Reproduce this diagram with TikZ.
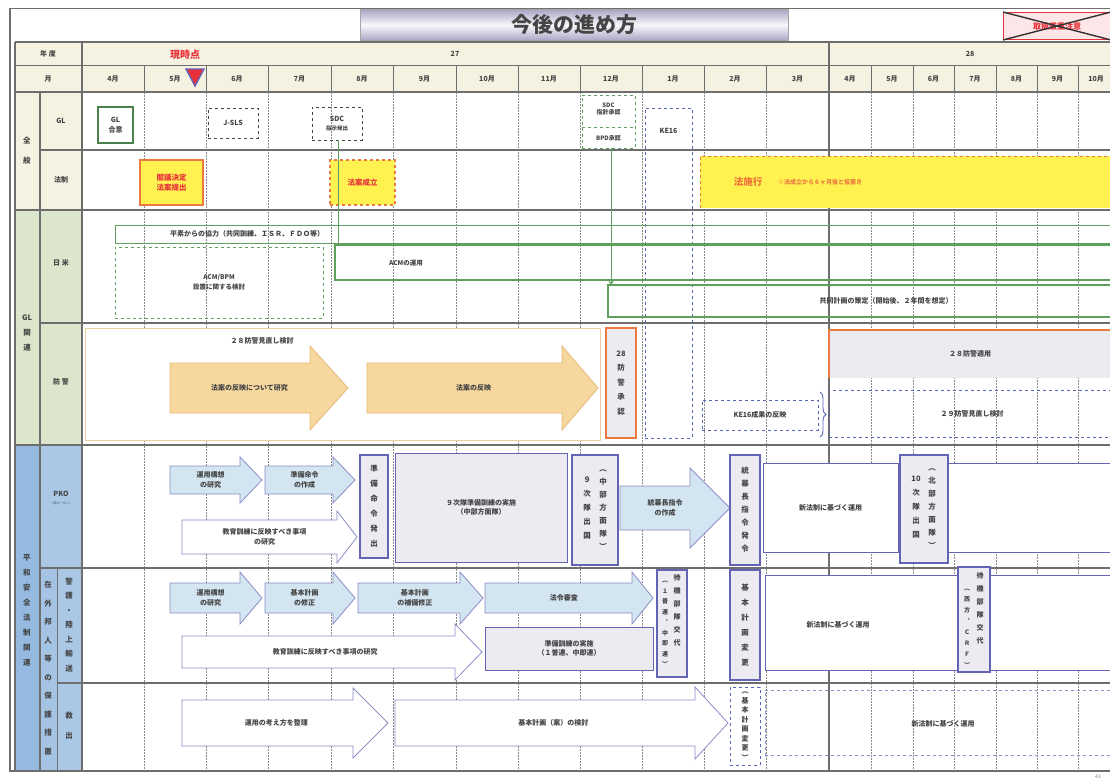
\documentclass[tikz,border=0pt]{standalone}
\usepackage{fontspec}
\setmainfont{Noto Sans CJK JP}
\usetikzlibrary{decorations.pathreplacing,arrows.meta}
\definecolor{cream}{HTML}{F6F2E1}
\definecolor{glgreen}{HTML}{DCE6CC}
\definecolor{blueA}{HTML}{95B9DF}
\definecolor{blueB}{HTML}{AAC7E6}
\definecolor{gridc}{HTML}{8A8A8A}
\definecolor{rowc}{HTML}{6E6E6E}
\definecolor{vfill}{HTML}{EDEBF2}
\definecolor{vbord}{HTML}{6464B4}
\definecolor{afill}{HTML}{D3E5F0}
\definecolor{abord}{HTML}{8C8CC8}
\definecolor{ofill}{HTML}{F6D89E}
\definecolor{obord}{HTML}{E6B878}
\definecolor{oline}{HTML}{EC7A40}
\definecolor{yel}{HTML}{FFF250}
\definecolor{ggreen}{HTML}{5FA05F}
\definecolor{dblue}{HTML}{5566B4}
\definecolor{redt}{HTML}{E8303A}
\definecolor{txt}{HTML}{454545}
\definecolor{lav}{HTML}{ABA5C6}
\newcommand\mkbox[7]{\node[#6, minimum width={#4-#2}, minimum height={#5-#3}] (#1) at ({(#2+#4)/2},{(#3+#5)/2}) {#7};}
\newcommand\mkarrow[9]{\draw[#2] (#3,{#6-#7}) -- (#4,{#6-#7}) -- (#4,{#6-#8}) -- (#5,#6) -- (#4,{#6+#8}) -- (#4,{#6+#7}) -- (#3,{#6+#7}) -- cycle;
 \node[lbl] (#1) at ({(#3+#4)/2+(#5-#4)*0.25},#6) {#9};}
\begin{document}
\begin{tikzpicture}[x=1pt,y=-1pt,
  lbl/.style={font=\bfseries\fontsize{7}{9.5}\selectfont, align=center, inner sep=0pt, text=txt},
  hd/.style={font=\bfseries\fontsize{7}{9}\selectfont, inner sep=0pt, text=txt},
  vt/.style={font=\bfseries\fontsize{7.5}{12.5}\selectfont, align=center, inner sep=0pt, text=txt},
  bxs/.style={inner sep=0pt, outer sep=0pt, align=center, font=\bfseries\fontsize{7}{9.5}\selectfont, text=txt},
  vb/.style={bxs, draw=vbord, line width=1.3pt, fill=vfill},
  gb/.style={bxs, draw=vbord, line width=1pt, fill=vfill},
  wb/.style={bxs, draw=vbord, line width=1pt, fill=white},
  db/.style={bxs, draw=dblue, dashed, line width=0.9pt},
  barr/.style={draw=abord, fill=afill, line width=0.8pt},
  warr/.style={draw=abord, fill=white, line width=0.8pt},
  oarr/.style={draw=obord, fill=ofill, line width=0.8pt},
  gridv/.style={draw=gridc, line width=0.5pt, dash pattern=on 2pt off 1pt},
  rowl/.style={draw=rowc, line width=1.6pt},
  gline/.style={draw=ggreen, line width=1pt}]
\useasboundingbox (0,0) rectangle (1110,780);
\fill[white] (0,0) rectangle (1110,780);
% ---------- top band ----------
\draw[rowc, line width=1pt] (10,8) -- (1110,8);
\node[inner sep=0pt, outer sep=0pt, minimum width=428, minimum height=31, top color=lav, bottom color=lav, middle color=white!92!lav, draw=gray!70] (title) at (574,25) {\bfseries\fontsize{21}{24}\selectfont\color{txt}今後の進め方};
\node[draw=redt, fill=redt!12, line width=1pt, minimum width=107, minimum height=27, inner sep=0pt, text=redt, font=\bfseries\fontsize{8}{9}\selectfont] (secret) at (1057,26) {取扱厳重注意};
\draw[black!80, line width=1.4pt] (secret.north west) -- (secret.south east);
\draw[black!80, line width=1.4pt] (secret.south west) -- (secret.north east);
% ---------- backgrounds ----------
\fill[cream] (15,42) rectangle (1110,92);
\fill[cream] (15,92) rectangle (82,210);
\fill[glgreen] (15,210) rectangle (82,445);
\fill[blueA] (15,445) rectangle (40,770);
\fill[blueB] (40,445) rectangle (82,770);
\fill[blueA!85!white] (40,568) rectangle (57,770);
% ---------- grid ----------
\foreach \gx in {144,206,268,331,393,456,518,580,642,704,766,871,913,954,996,1037,1078}{
  \draw[gridv] (\gx,92) -- (\gx,770);
  \draw[rowc, line width=1pt] (\gx,65) -- (\gx,92);
}
\draw[rowc, line width=1.2pt] (829,42) -- (829,770);
\draw[rowc, line width=1.4pt] (82,42) -- (82,770);
\draw[rowc, line width=1.2pt] (40,92) -- (40,770);
\draw[rowc, line width=1pt] (57,568) -- (57,770);
\draw[rowc, line width=1.2pt] (10,8) -- (10,772);
\draw[rowc, line width=1.2pt] (15,42) -- (15,770);
\draw[rowl] (15,42) -- (1110,42);
\draw[rowc, line width=1pt] (15,65) -- (1110,65);
\draw[rowl] (15,92) -- (1110,92);
\draw[rowl] (40,150) -- (1110,150);
\draw[rowl] (15,210) -- (1110,210);
\draw[rowl] (40,323) -- (1110,323);
\draw[rowl] (15,445) -- (1110,445);
\draw[rowl] (40,568) -- (1110,568);
\draw[rowl] (57,683) -- (1110,683);
\draw[rowl] (10,771) -- (1110,771);
% ---------- header text ----------
\node[hd] (nendo) at (48,54) {年\ 度};
\node[hd] (tsuki) at (48,79) {月};
\node[hd] (y27) at (455,54) {27};
\node[hd] (y28) at (970,54) {28};
\node[font=\bfseries\fontsize{10}{11}\selectfont, text=redt, inner sep=0pt] (genji) at (185,55) {現時点};
\foreach \mx/\mt in {113/4月,175/5月,237/6月,299.5/7月,362/8月,424.5/9月,487/10月,549/11月,611/12月,673/1月,735/2月,797.5/3月,850/4月,892/5月,933.5/6月,975/7月,1016.5/8月,1057.5/9月,1096/10月}{
  \node[hd] at (\mx,79) {\mt};
}
\draw[fill=redt, draw=vbord, line width=1.4pt] (186,69) -- (204,69) -- (195,86) -- cycle;
% ---------- left labels ----------
\node[vt, font=\bfseries\fontsize{7.5}{20}\selectfont] (zenpan) at (27,151) {全\\般};
\node[lbl] (lgl) at (61,121) {GL};
\node[lbl] (lhosei) at (61,180) {法制};
\node[vt, font=\bfseries\fontsize{7.5}{15}\selectfont] (glkan) at (27,333) {GL\\関\\連};
\node[lbl] (lnichibei) at (61,263) {日\ 米};
\node[lbl] (lbokei) at (61,382) {防\ 警};
\node[vt, font=\bfseries\fontsize{7.5}{15}\selectfont] (heiwa) at (27,610) {平\\和\\安\\全\\法\\制\\関\\連};
\node[lbl] (lpko) at (61,494) {PKO};
\node[inner sep=0pt, font=\fontsize{3}{4}\selectfont, text=txt] (lpkos) at (61,503) {（南スーダン）};
\node[vt, font=\bfseries\fontsize{7.5}{18.5}\selectfont] (zaigai) at (48,668) {在\\外\\邦\\人\\等\\の\\保\\護\\措\\置};
\node[vt, font=\bfseries\fontsize{7.5}{14.5}\selectfont] (keigo) at (69,625) {警\\護\\・\\陸\\上\\輸\\送};
\node[vt, font=\bfseries\fontsize{7.5}{20}\selectfont] (kyushutsu) at (69,726) {救\\出};
% ---------- 全般 GL ----------
\mkbox{glgoi}{98}{107}{133}{143}{bxs, draw=ggreen!80!black, line width=1.2pt, fill=white}{GL\\合意}
\mkbox{jsls}{208}{108}{258}{138}{bxs, draw=txt, dashed, line width=0.9pt}{J-SLS}
\mkbox{sdca}{312}{107}{362}{140}{bxs, draw=txt, dashed, line width=0.9pt}{SDC\\{\fontsize{5.5}{7}\selectfont 指示発出}}
\mkbox{sdcb}{582}{95}{635}{148}{bxs, draw=ggreen, dashed, line width=0.9pt}{}
\node[lbl, font=\bfseries\fontsize{6}{7}\selectfont] (sdcbt) at (608.5,109) {SDC\\指針承認};
\draw[ggreen, dashed, line width=0.8pt] (582,127) -- (635,127);
\node[lbl, font=\bfseries\fontsize{6}{7}\selectfont] (sdcbb) at (608.5,138) {BPD承認};
\mkbox{ke}{645}{108}{692}{438}{db}{}
\node[lbl] (ket) at (668.5,131) {KE16};
% ---------- 法制 ----------
\mkbox{kakugi}{140}{160}{203}{205}{bxs, draw=oline, line width=1.2pt, fill=yel, text=redt, font=\bfseries\fontsize{7.5}{10}\selectfont}{閣議決定\\法案提出}
\mkbox{seiritsu}{330}{160}{395}{205}{bxs, draw=oline, dashed, line width=1.1pt, fill=yel, text=redt, font=\bfseries\fontsize{7.5}{10}\selectfont}{法案成立}
\fill[yel] (700,156) rectangle (1110,208);
\draw[oline, dashed, line width=1pt] (700,208) -- (700,156) -- (1110,156);
\node[inner sep=0pt, text=oline!90!red, font=\bfseries\fontsize{9.5}{11}\selectfont] (sekou) at (748,182) {法施行};
\node[inner sep=0pt, text=oline, font=\bfseries\fontsize{6}{7}\selectfont, anchor=west] (sekoun) at (778,182) {※法成立から６ヶ月後と仮置き};
% ---------- 日米 ----------
\mkbox{heiso}{115}{225}{1115}{243}{bxs, draw=ggreen, line width=1pt}{}
\node[lbl, anchor=west] (heisot) at (170,234) {平素からの協力（共同訓練、ＩＳＲ、ＦＤＯ等）};
\mkbox{acmbpm}{115}{247}{323}{318}{bxs, draw=ggreen, dashed, line width=0.9pt, font=\bfseries\fontsize{6.5}{10}\selectfont}{ACM/BPM\\設置に関する検討}
\mkbox{acm}{335}{245}{1115}{280}{bxs, draw=ggreen, line width=1.2pt}{}
\node[lbl, font=\bfseries\fontsize{6.5}{8}\selectfont] (acmt) at (406,263) {ACMの運用};
\mkbox{kyodo}{608}{285}{1115}{317}{bxs, draw=ggreen, line width=1.2pt}{}
\node[lbl] (kyodot) at (886,301) {共同計画の策定（開始後、２年間を想定）};
\draw[gline] (sdca.south -| 338,0) -- (338,245);
\draw[gline, -{Straight Barb[length=3pt,width=4pt]}] (611,148) -- (611,285);
% ---------- 防警 ----------
\mkbox{bokei}{85}{328}{600}{440}{bxs, draw=obord!70!white, line width=1pt, fill=white}{}
\node[lbl] (bokeit) at (262,341) {２８防警見直し検討};
\mkarrow{ara}{oarr}{170}{310}{348}{388}{25}{42}{法案の反映について研究}
\mkarrow{arb}{oarr}{367}{562}{598}{388}{25}{42}{法案の反映}
\mkbox{bks}{606}{328}{636}{438}{vb, draw=oline, line width=1.5pt}{}
\node[vt, font=\bfseries\fontsize{7.5}{14.5}\selectfont] (bkst) at (621,383) {28\\防\\警\\承\\認};
\fill[vfill] (829,330) rectangle (1110,378);
\draw[oline, line width=1.1pt] (829,378) -- (829,330) -- (1110,330);
\node[lbl] (tekiyo) at (970,354) {２８防警適用};
\mkbox{mina}{829}{390}{1115}{437}{db}{２９防警見直し検討}
\mkbox{keh}{702}{400}{818}{430}{db}{KE16成果の反映}
\draw[dblue, line width=0.9pt, decorate, decoration={brace, amplitude=6pt}] (820,392) -- (820,437);
% ---------- PKO ----------
\mkarrow{pa}{barr}{170}{240}{262}{480}{14}{23}{運用構想\\の研究}
\mkarrow{pb}{barr}{265}{333}{355}{480}{14}{23}{準備命令\\の作成}
\mkarrow{pc}{warr}{182}{337}{357}{537}{17}{26}{教育訓練に反映すべき事項\\の研究}
\mkbox{pv1}{360}{455}{388}{558}{vb}{}
\node[vt, font=\bfseries\fontsize{7.5}{15}\selectfont] (pv1t) at (374,506) {準\\備\\命\\令\\発\\出};
\mkbox{p9}{395}{453}{567}{562}{gb}{９次隊準備訓練の実施\\（中部方面隊）}
\mkbox{pv2}{572}{455}{618}{565}{vb}{}
\node[vt, font=\bfseries\fontsize{7.5}{13}\selectfont] (pv2r) at (603,510) {︵\\中\\部\\方\\面\\隊\\︶};
\node[vt, font=\bfseries\fontsize{7.5}{14}\selectfont] (pv2l) at (587,508) {９\\次\\隊\\出\\国};
\mkarrow{pd}{barr}{620}{690}{730}{508}{22}{40}{統幕長指令\\の作成}
\mkbox{pv3}{730}{455}{760}{565}{vb}{}
\node[vt, font=\bfseries\fontsize{7.5}{13}\selectfont] (pv3t) at (745,510) {統\\幕\\長\\指\\令\\発\\令};
\mkbox{pshin}{763}{463}{898}{552}{wb}{新法制に基づく運用}
\mkbox{pv4}{900}{455}{948}{563}{vb}{}
\node[vt, font=\bfseries\fontsize{7.5}{13}\selectfont] (pv4r) at (932,509) {︵\\北\\部\\方\\面\\隊\\︶};
\node[vt, font=\bfseries\fontsize{7.5}{14}\selectfont] (pv4l) at (916,507) {10\\次\\隊\\出\\国};
\mkbox{prest}{948}{463}{1115}{552}{wb}{}
% ---------- 警護・陸上輸送 ----------
\mkarrow{ka}{barr}{170}{240}{262}{598}{15}{26}{運用構想\\の研究}
\mkarrow{kb}{barr}{265}{333}{355}{598}{15}{26}{基本計画\\の修正}
\mkarrow{kc}{barr}{358}{460}{483}{598}{15}{26}{基本計画\\の補備修正}
\mkarrow{kd}{barr}{485}{632}{653}{598}{15}{26}{法令審査}
\mkarrow{ke2}{warr}{182}{455}{482}{652}{16}{28}{教育訓練に反映すべき事項の研究}
\mkbox{kjun}{485}{627}{653}{670}{gb}{準備訓練の実施\\（１普連、中即連）}
\mkbox{kv1}{657}{570}{687}{677}{vb}{}
\node[vt, font=\bfseries\fontsize{7}{13}\selectfont] (kv1r) at (677,610) {待\\機\\部\\隊\\交\\代};
\node[vt, font=\bfseries\fontsize{6}{10.5}\selectfont] (kv1l) at (665,624) {︵\\１\\普\\連\\︑\\中\\即\\連\\︶};
\mkbox{kv2}{730}{570}{760}{680}{vb}{}
\node[vt, font=\bfseries\fontsize{7.5}{15}\selectfont] (kv2t) at (745,625) {基\\本\\計\\画\\変\\更};
\mkbox{kshin}{765}{575}{958}{670}{wb}{}
\node[lbl] (kshint) at (838,625) {新法制に基づく運用};
\mkbox{kv3}{958}{567}{990}{672}{vb}{}
\node[vt, font=\bfseries\fontsize{7}{13}\selectfont] (kv3r) at (980,608) {待\\機\\部\\隊\\交\\代};
\node[vt, font=\bfseries\fontsize{6}{11}\selectfont] (kv3l) at (967,628) {︵\\西\\方\\︑\\Ｃ\\Ｒ\\Ｆ\\︶};
\mkbox{krest}{990}{575}{1115}{670}{wb}{}
% ---------- 救出 ----------
\mkarrow{qa}{warr}{182}{353}{388}{723}{23}{35}{運用の考え方を整理}
\mkarrow{qb}{warr}{395}{695}{728}{723}{23}{36}{基本計画（案）の検討}
\mkbox{qv}{730}{687}{760}{765}{db}{}
\node[vt, font=\bfseries\fontsize{7}{9.5}\selectfont] (qvt) at (745,726) {︵\\基\\本\\計\\画\\変\\更\\︶};
\mkbox{qshin}{765}{690}{1115}{755}{db, draw=dblue!70!white}{}
\node[lbl] (qshint) at (943,724) {新法制に基づく運用};
\node[inner sep=0pt, font=\fontsize{5}{6}\selectfont, text=gray] (pg) at (1098,777) {43};
\end{tikzpicture}
\end{document}
